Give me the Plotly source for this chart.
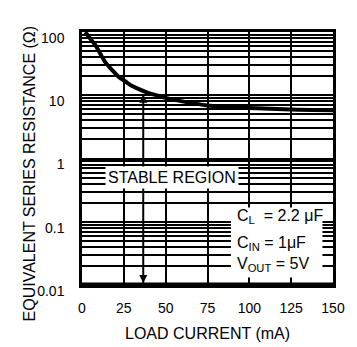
import math
import plotly.graph_objects as go

# ---- data ----
load_current = [2, 5, 8, 11, 14, 18, 22, 26, 30, 35, 40, 45, 50, 60, 75, 100, 125, 150]
esr = [100, 78, 62, 45, 33, 25, 19.5, 16.5, 14, 12.2, 10.8, 9.9, 9.1, 8.0, 6.9, 6.3, 5.95, 5.8]

x_ticks = [0, 25, 50, 75, 100, 125, 150]
y_decades = [0.01, 0.1, 1, 10, 100]
y_labels = ["0.01", "0.1", "1", "10", "100"]

arrow_x = [36.6, 36.6]
arrow_y = [10.2, 0.0108]

legend_lines = ["C<sub>L</sub>\u00a0 = 2.2\u00a0μF", "C<sub>IN</sub>\u00a0= 1μF", "V<sub>OUT</sub>\u00a0= 5V"]
legend_y = [0.122, 0.0455, 0.0212]

FONT = "Liberation Sans, Arial, sans-serif"

fig = go.Figure()

fig.add_trace(go.Scatter(x=load_current, y=esr, mode="lines",
                         line=dict(color="black", width=4, shape="spline", smoothing=0.8),
                         cliponaxis=True, hoverinfo="skip", showlegend=False))

fig.add_trace(go.Scatter(x=arrow_x, y=arrow_y, mode="lines",
                         line=dict(color="black", width=2), showlegend=False, hoverinfo="skip"))
fig.add_trace(go.Scatter(x=arrow_x, y=arrow_y, mode="markers",
                         marker=dict(symbol=["arrow-up", "arrow-down"], size=8, color="black",
                                     line=dict(width=0)),
                         cliponaxis=False, showlegend=False, hoverinfo="skip"))

# white boxes
fig.add_shape(type="rect", xref="x", yref="y", x0=89, x1=143.7, y0=0.0131, y1=0.1675,
              fillcolor="white", line=dict(width=0), layer="above")
# heavier bottom frame
fig.add_shape(type="line", xref="paper", yref="paper", x0=0, x1=1, y0=0, y1=0,
              line=dict(color="black", width=5), layer="above")

fig.add_annotation(x=53.7, y=math.log10(0.499), xref="x", yref="y", text="STABLE REGION",
                   showarrow=False, bgcolor="white", borderpad=2,
                   font=dict(family=FONT, size=16, color="black"))

for t, yv in zip(legend_lines, legend_y):
    fig.add_annotation(x=91.4, y=math.log10(yv), xref="x", yref="y", text=t,
                       xanchor="left", yanchor="middle", showarrow=False,
                       font=dict(family=FONT, size=16, color="black"))

# axis titles
fig.add_annotation(x=-0.21, y=0.442, xref="paper", yref="paper", xanchor="center", yanchor="middle",
                   text="EQUIVALENT SERIES RESISTANCE (Ω)", textangle=-90,
                   showarrow=False, font=dict(family=FONT, size=16, color="black"))
fig.add_annotation(x=0.5, y=-0.19, xref="paper", yref="paper", xanchor="center", yanchor="middle",
                   text="LOAD CURRENT (mA)", showarrow=False,
                   font=dict(family=FONT, size=16, color="black"))

fig.update_xaxes(range=[0, 150], tickvals=x_ticks, ticktext=[str(v) for v in x_ticks],
                 showgrid=True, gridcolor="black", gridwidth=1.6,
                 showline=True, linecolor="black", linewidth=2.5, mirror=True,
                 ticks="outside", ticklen=8, tickcolor="rgba(0,0,0,0)", zeroline=False,
                 tickfont=dict(family=FONT, size=14, color="black"))
fig.update_yaxes(type="log", range=[-2, 2], tickvals=y_decades, ticktext=y_labels,
                 showgrid=True, gridcolor="black", gridwidth=1.5,
                 minor=dict(dtick="D1", showgrid=True, gridcolor="black", gridwidth=1.5, ticks=""),
                 showline=True, linecolor="black", linewidth=2.5, mirror=True,
                 ticks="outside", ticklen=12, tickcolor="rgba(0,0,0,0)", ticklabelshift=6,
                 tickfont=dict(family=FONT, size=14, color="black"))

fig.update_layout(width=357, height=347, margin=dict(l=82, r=20, t=32, b=62),
                  plot_bgcolor="white", paper_bgcolor="white", showlegend=False)

fig.write_html("out.html", config={"displayModeBar": False},
               post_script="document.body.style.margin='0';")
